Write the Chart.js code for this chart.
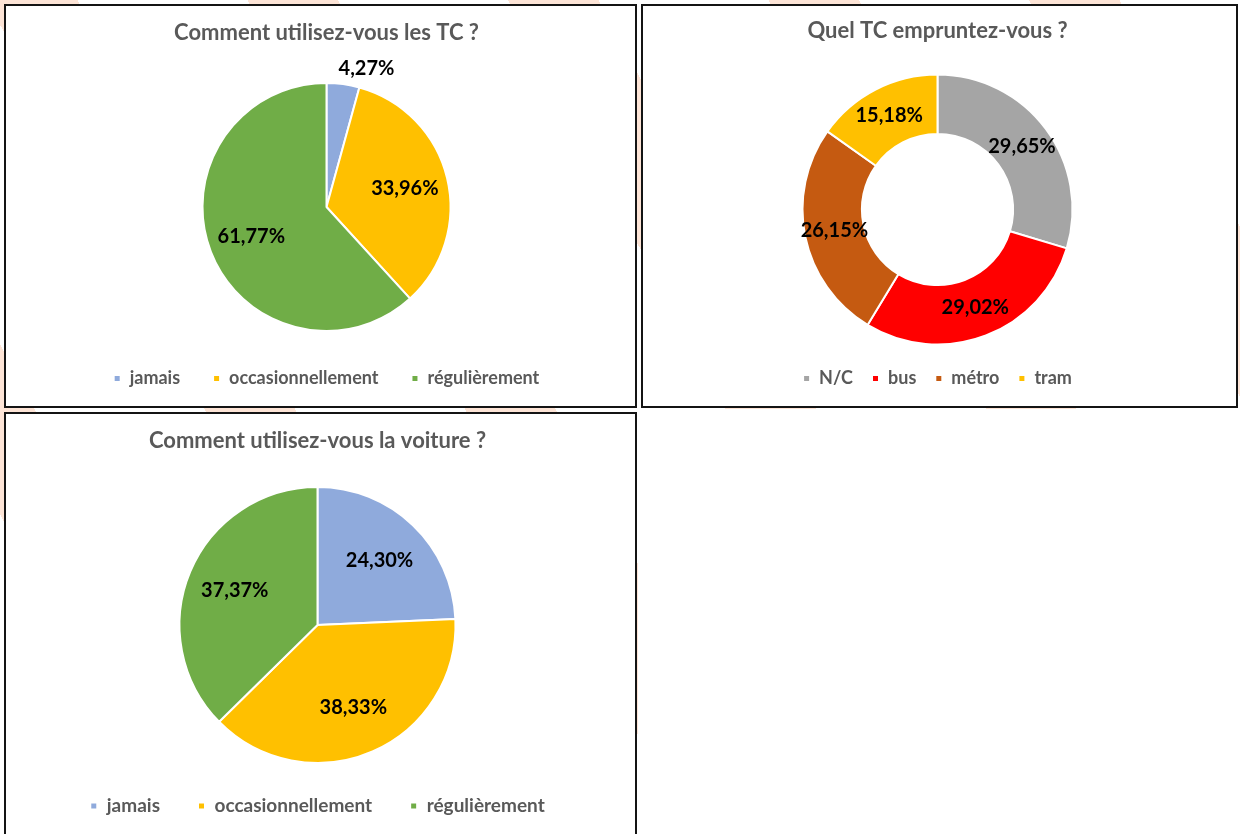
<!DOCTYPE html>
<html>
<head>
<meta charset="utf-8">
<script src="https://cdn.jsdelivr.net/npm/chart.js@4.4.1/dist/chart.umd.min.js"></script>
<style>
  html, body { margin: 0; padding: 0; }
  body {
    width: 1240px; height: 834px; overflow: hidden; position: relative;
    background: #ffffff repeating-linear-gradient(62deg, rgba(255,255,255,0) 0px, rgba(255,255,255,0) 150px, #fde4d6 150px, #fde4d6 230px);
  }
  .panel { position: absolute; background: #fff; border: 2px solid #141414; box-sizing: border-box; }
  .panel canvas { display: block; }
  #blank { position: absolute; left: 638px; top: 409px; width: 602px; height: 425px; background: #fff; }
</style>
</head>
<body>
<div id="blank"></div>
<div class="panel" style="left:4px; top:4px; width:633px; height:404px;"><canvas id="c1" width="629" height="400"></canvas></div>
<div class="panel" style="left:641px; top:4px; width:597px; height:404px;"><canvas id="c2" width="593" height="400"></canvas></div>
<div class="panel" style="left:4px; top:412px; width:633px; height:430px;"><canvas id="c3" width="629" height="426"></canvas></div>
<script>
// ---- data ----
const tcTitle = "Comment utilisez-vous les TC ?";
const tcLabels = ["jamais", "occasionnellement", "régulièrement"];
const tcValues = [4.27, 33.96, 61.77];

const modeTitle = "Quel TC empruntez-vous ?";
const modeLabels = ["N/C", "bus", "métro", "tram"];
const modeValues = [29.65, 29.02, 26.15, 15.18];

const carTitle = "Comment utilisez-vous la voiture ?";
const carLabels = ["jamais", "occasionnellement", "régulièrement"];
const carValues = [24.30, 38.33, 37.37];

// ---- styles ----
const FONT = "Lato, 'Open Sans', sans-serif";
const freqColors = ["#8FAADC", "#FFC000", "#70AD47"];
const modeColors = ["#A5A5A5", "#FF0000", "#C55A11", "#FFC000"];

const pctLabels = {
  id: 'pctLabels',
  afterDatasetsDraw(chart) {
    const ctx = chart.ctx;
    const ds = chart.data.datasets[0];
    const meta = chart.getDatasetMeta(0);
    const total = ds.data.reduce((a, b) => a + b, 0);
    ctx.save();
    ctx.font = "bold 20px " + FONT;
    ctx.fillStyle = "#000";
    ctx.textAlign = "center";
    ctx.textBaseline = "middle";
    meta.data.forEach((arc, i) => {
      const p = arc.getProps(['x', 'y', 'startAngle', 'endAngle', 'innerRadius', 'outerRadius'], true);
      const mid = (p.startAngle + p.endAngle) / 2;
      const txt = ds.data[i].toFixed(2).replace('.', ',') + '%';
      let x, y;
      if (p.innerRadius > 0 || ds.data[i] / total >= 0.06) {
        const r = p.innerRadius > 0 ? (p.innerRadius + p.outerRadius) / 2 : p.outerRadius * 0.65;
        x = p.x + Math.cos(mid) * r;
        y = p.y + Math.sin(mid) * r;
      } else {
        // small slice: label placed just outside the pie edge
        const r = p.outerRadius + 8;
        const w = ctx.measureText(txt).width;
        x = p.x + Math.cos(mid) * r + Math.sign(Math.cos(mid)) * w * 0.4;
        y = p.y + Math.sin(mid) * r + Math.sin(mid) * 8;
      }
      ctx.fillText(txt, x, y);
    });
    ctx.restore();
  }
};

function makeChart(id, title, labels, values, colors, opts) {
  return new Chart(document.getElementById(id), {
    type: opts.type,
    data: { labels: labels, datasets: [{ data: values, backgroundColor: colors, borderColor: '#fff', borderWidth: 2, radius: opts.radius, cutout: opts.cutout }] },
    options: {
      responsive: false,
      animation: false,
      events: [],
      layout: { padding: opts.padding },
      plugins: {
        title: { display: true, text: title, color: '#595959', font: { family: FONT, size: 22, weight: 'bold' }, padding: opts.titlePad },
        legend: {
          position: 'bottom',
          labels: { color: '#595959', font: { family: FONT, size: opts.legendSize, weight: 'bold' }, boxWidth: 7, boxHeight: 7, padding: opts.legendGap }
        },
        tooltip: { enabled: false }
      }
    },
    plugins: [pctLabels]
  });
}

makeChart('c1', tcTitle, tcLabels, tcValues, freqColors,
  { type: 'pie', radius: 124, cutout: 0, padding: { left: 12, right: 0, top: 0, bottom: 8.5 }, titlePad: { top: 13.8, bottom: 31.3 }, legendSize: 18, legendGap: 33 });
makeChart('c2', modeTitle, modeLabels, modeValues, modeColors,
  { type: 'doughnut', radius: 135, cutout: '56%', padding: { left: 0, right: 4, top: 0, bottom: 8.5 }, titlePad: { top: 11.8, bottom: 24.3 }, legendSize: 18, legendGap: 19 });
makeChart('c3', carTitle, carLabels, carValues, freqColors,
  { type: 'pie', radius: 138, cutout: 0, padding: { left: 0, right: 6, top: 0, bottom: 14.5 }, titlePad: { top: 13.8, bottom: 37.3 }, legendSize: 19, legendGap: 38 });
</script>
</body>
</html>
